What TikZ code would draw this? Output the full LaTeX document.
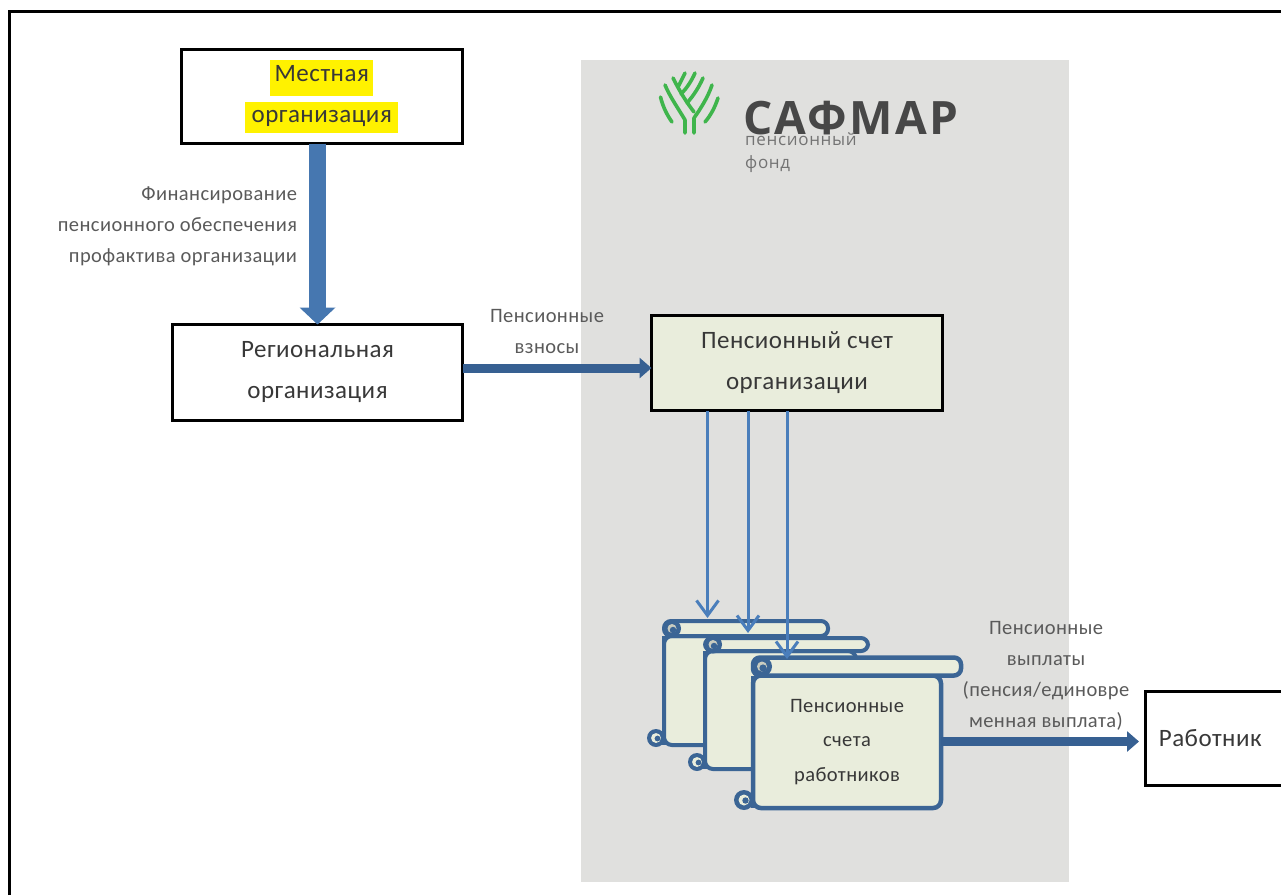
\documentclass[tikz,border=0pt]{standalone}
\usepackage{fontspec}
\setmainfont{Carlito}[LetterSpace=2]
\newfontfamily\logofont[LetterSpace=5]{Open Sans}
\newfontfamily\logosub[LetterSpace=4]{Open Sans}
\usetikzlibrary{arrows.meta,calc}
\definecolor{paper}{HTML}{E9EDDC}
\definecolor{panel}{HTML}{E0E0DE}
\definecolor{sdark}{HTML}{3B6595}
\definecolor{thick}{HTML}{4677B0}
\definecolor{mid}{HTML}{376092}
\definecolor{thin}{HTML}{4A7EBB}
\definecolor{leaf}{HTML}{3FB54C}
\definecolor{txt}{HTML}{383838}
\definecolor{lab}{HTML}{5A5A5A}
\tikzset{
 boxnode/.style={draw=black,line width=3pt,inner sep=0pt,outer sep=0pt,align=center,text=txt,font=\fontsize{25pt}{41pt}\selectfont},
 labelnode/.style={inner sep=0pt,outer sep=0pt,text=lab,font=\fontsize{20.5pt}{31pt}\selectfont},
 thickarrow/.style={draw=thick,line width=17pt,-{Triangle[length=17pt,width=35pt]}},
 midarrow/.style={draw=mid,line width=9pt,-{Triangle[length=12pt,width=20pt]}},
 thinarrow/.style={draw=thin,line width=3pt,-{Straight Barb[length=15pt,width=22pt]}},
 branch/.style={draw=leaf,line width=3.6pt,line cap=round,line join=round},
}
% L, T, rollerRight, rollerBottom, bodyRight, bottom, curl radius, line width
\newcommand{\ScrollShape}[8]{%
 \draw[fill=paper,draw=sdark,line width=#8pt,rounded corners=8pt] (#1,#4) -- (#5,#4) -- (#5,#6) -- (#1,#6) -- cycle;
 \draw[fill=paper,draw=sdark,line width=#8pt,line join=round] (#1,#4) -- (#1,#6);
 \draw[fill=paper,draw=sdark,line width=#8pt,rounded corners=7pt] (#1,#2) rectangle (#3,#4);
 \fill[sdark] ({#1-#7+1},{#6-#7+2}) circle[radius=#7pt];
 \fill[paper] ({#1-#7+1},{#6-#7+2}) circle[radius=0.55*#7pt];
 \fill[sdark] ({#1-#7+2.5},{#6-#7+2.5}) circle[radius=0.32*#7pt];
 \fill[sdark] ({#1+#7-1},{(#2+#4)/2}) circle[radius=#7pt];
 \fill[paper!70!gray] ({#1+#7-1},{(#2+#4)/2}) circle[radius=0.5*#7pt];
 \fill[sdark] ({#1+#7},{(#2+#4)/2+1.5}) circle[radius=0.36*#7pt];
}
\begin{document}
\begin{tikzpicture}[x=1pt,y=-1pt]
\useasboundingbox (0,0) rectangle (1281,895);
% page frame
\coordinate (fa) at (9.5,895);
\coordinate (fb) at (9.5,11);
\coordinate (fc) at (1281,11);
\draw[line width=3pt,black] (fa) -- (fb) -- (fc);
% panel
\fill[panel] (581,60) rectangle (1069,882);
% logo
\draw[branch] (660.5,97) .. controls (663,107) and (667,115) .. (672,122);
\draw[branch] (685,133) -- (685,120) .. controls (678,108) and (670,97) .. (665,85);
\draw[branch] (694,133) -- (694,118) .. controls (701,108) and (708,97) .. (712,85);
\draw[branch] (673,78) .. controls (680,92) and (687,103) .. (694,112);
\draw[branch] (703,78) .. controls (699,87) and (694,95) .. (687,103);
\draw[branch] (695,73) .. controls (692,80) and (687,88) .. (681,94);
\draw[branch] (685,73) -- (678,87);
\draw[branch] (718,98) .. controls (715,107) and (711,115) .. (705,122);
\node[anchor=base west,inner sep=0pt,text=black!72,font=\logofont\bfseries\fontsize{46pt}{46pt}\selectfont] (brand) at (743,134) {САФМАР};
\node[anchor=base west,inner sep=0pt,text=black!55,font=\logosub\fontsize{17pt}{23pt}\selectfont,align=left] (brandsub) at (745,168) {пенсионный\\фонд};
% highlight
\fill[yellow] (270,60) rectangle (373,96);
\fill[yellow] (245,102) rectangle (398,133);
% boxes
\node[boxnode,minimum width=281.5pt,minimum height=94pt] (org) at (321.75,96.5) {Местная\\организация};
\node[boxnode,minimum width=290pt,minimum height=95.5pt] (reg) at (317.5,372.25) {Региональная\\организация};
\node[boxnode,fill=paper,minimum width=291pt,minimum height=95pt] (acc) at (797,363) {Пенсионный счет\\организации};
\node[inner sep=0pt,outer sep=0pt,minimum width=135.5pt,minimum height=94pt,text=txt,font=\fontsize{25pt}{41pt}\selectfont] (wrk) at (1213.25,738.5) {\hspace*{-6pt}Работник};
\draw[line width=3pt,black] (wrk.north east) -- (wrk.north west) -- (wrk.south west) -- (wrk.south east);
% scrolls
\ScrollShape{664}{621}{828}{636}{815}{745}{9}{4}
\coordinate (t1) at (707.5,618);
\ScrollShape{705}{638}{868}{651}{856}{769}{9}{4}
\coordinate (t2) at (748,633);
\ScrollShape{753}{657.5}{961}{675.5}{941}{808}{10}{4.5}
\coordinate (t3) at (787,659);
\node[inner sep=0pt,outer sep=0pt,minimum width=188pt,minimum height=132pt,align=center,text=txt,font=\fontsize{20.5pt}{34.5pt}\selectfont] (sacc) at (847,742) {Пенсионные\\счета\\работников};
% connectors
\draw[thickarrow] (reg.north |- org.south) -- (reg.north);
\coordinate (h1) at (463,368);
\draw[midarrow] (h1) -- (h1 -| acc.west);
\draw[thinarrow] (t1 |- acc.south) -- (t1);
\draw[thinarrow] (t2 |- acc.south) -- (t2);
\draw[thinarrow] (t3 |- acc.south) -- (t3);
\coordinate (h2) at (1139,741.5);
\draw[midarrow] (h2 -| sacc.east) -- (h2);
% labels
\node[labelnode,align=right,anchor=east] (l1) at (297,226) {Финансирование\\пенсионного обеспечения\\профактива организации};
\node[labelnode,align=center] (l2) at (547,331) {Пенсионные\\взносы};
\node[labelnode,align=center] (l3) at (1046,676) {Пенсионные\\выплаты\\(пенсия/единовре\\менная выплата)};
\end{tikzpicture}
\end{document}
